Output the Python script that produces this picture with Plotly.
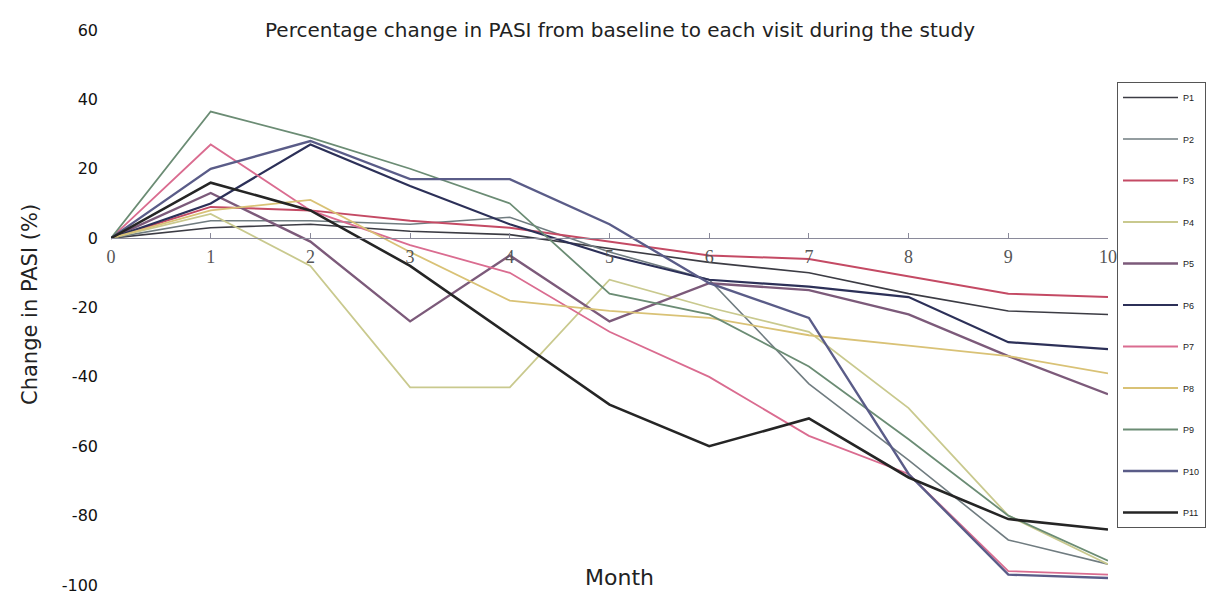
import plotly.graph_objects as go

months = [0, 1, 2, 3, 4, 5, 6, 7, 8, 9, 10]
series_names = ["P1", "P2", "P3", "P4", "P5", "P6", "P7", "P8", "P9", "P10", "P11"]

p1 = [0, 3, 4, 2, 1, -3, -7, -10, -16, -21, -22]
p2 = [0, 5, 5, 4, 6, -4, -12, -42, -64, -87, -94]
p3 = [0, 9, 8, 5, 3, -1, -5, -6, -11, -16, -17]
p4 = [0, 7, -8, -43, -43, -12, -20, -27, -49, -80, -94]
p5 = [0, 13, -1, -24, -5, -24, -13, -15, -22, -34, -45]
p6 = [0, 10, 27, 15, 4, -5, -12, -14, -17, -30, -32]
p7 = [0, 27, 8, -2, -10, -27, -40, -57, -68, -96, -97]
p8 = [0, 8, 11, -4, -18, -21, -23, -28, -31, -34, -39]
p9 = [0, 36.5, 29, 20, 10, -16, -22, -37, -58, -80, -93]
p10 = [0, 20, 28, 17, 17, 4, -13, -23, -68, -97, -98]
p11 = [0, 16, 8, -8, -28, -48, -60, -52, -69, -81, -84]

values = [p1, p2, p3, p4, p5, p6, p7, p8, p9, p10, p11]
colors = ["#3c3c44", "#707c80", "#c44a64", "#c9c98e", "#7c5a7a", "#2c3058",
          "#da6c90", "#d9c276", "#6b8c74", "#5a5c88", "#252525"]
widths = [1.6, 1.6, 2.0, 1.8, 2.4, 2.2, 1.8, 1.8, 1.8, 2.4, 2.6]

y_ticks = [60, 40, 20, 0, -20, -40, -60, -80, -100]
y_ticktext = [str(v) for v in y_ticks]

fig = go.Figure()
for name, vals, c, w in zip(series_names, values, colors, widths):
    fig.add_trace(go.Scatter(x=months, y=vals, mode="lines", name=name,
                             legendgroup=name,
                             line=dict(color=c, width=w)))

# page body has an 8px default margin; work in figure coordinates
OFF = 8
W, H = 1215 - OFF, 596 - OFF
L, R, T, B = 111 - OFF, 107, 30 - OFF, 11
pw = W - L - R
ph = H - T - B


def px(xpage):
    return (xpage - OFF - L) / pw


def py(ypage):
    return 1 - (ypage - OFF - T) / ph


fig.update_layout(
    width=W, height=H,
    margin=dict(l=L, r=R, t=T, b=B, autoexpand=False),
    paper_bgcolor="white", plot_bgcolor="white",
    showlegend=True,
    legend=dict(
        x=px(1117), xanchor="left",
        y=py(82), yanchor="top",
        bordercolor="#555555", borderwidth=1, bgcolor="white",
        font=dict(family="Liberation Sans", size=9, color="#222222"),
        tracegroupgap=22.5,
        itemwidth=55,
        entrywidth=110, entrywidthmode="pixels",
    ),
    xaxis=dict(
        range=[0, 10], tickmode="array", tickvals=months,
        ticktext=[str(m) for m in months],
        showgrid=False, zeroline=False, automargin=False,
        showline=True, linecolor="#8a8a9a", linewidth=1.2,
        anchor="free", position=(0 - (-100)) / 160,
        ticks="inside", ticklen=5, tickcolor="#8a8a9a",
        ticklabelstandoff=2,
        tickfont=dict(family="Liberation Serif", size=18, color="#555555"),
    ),
    yaxis=dict(
        range=[-100, 60], tickmode="array", tickvals=y_ticks, ticktext=y_ticktext,
        showgrid=False, zeroline=False, showline=False, ticks="", automargin=False,
        ticklabelstandoff=12,
        tickfont=dict(family="DejaVu Sans", size=16, color="#111111"),
    ),
    annotations=[
        dict(text="Percentage change in PASI from baseline to each visit during the study",
             xref="paper", yref="paper", x=px(620), y=py(30), xanchor="center",
             yanchor="middle", showarrow=False,
             font=dict(family="DejaVu Sans", size=20, color="#222222")),
        dict(text="Month", xref="paper", yref="paper", x=px(619),
             y=py(577), xanchor="center", yanchor="middle", showarrow=False,
             font=dict(family="DejaVu Sans", size=22, color="#222222")),
        dict(text="Change in PASI (%)", xref="paper", yref="paper",
             x=px(30), y=py(305), xanchor="center", yanchor="middle",
             textangle=-90, showarrow=False,
             font=dict(family="DejaVu Sans", size=21, color="#222222")),
    ],
)

fig.write_html("out.html")
